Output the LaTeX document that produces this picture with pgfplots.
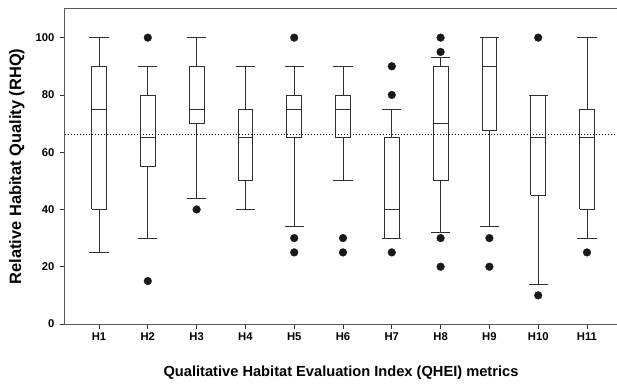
\documentclass[border=0pt]{standalone}
\usepackage{pgfplots}
\pgfplotsset{compat=1.18}
\usepackage{fontspec}
\setmainfont{Liberation Sans}
\pgfplotsset{bxl/.style={black!82, line width=0.8bp, solid, mark=none}}
% #1 position, #2 lower whisker, #3 lower quartile, #4 median, #5 upper quartile, #6 upper whisker
\newcommand\bx[6]{%
  \pgfmathsetmacro\xl{#1-0.15}\pgfmathsetmacro\xr{#1+0.15}%
  \pgfmathsetmacro\xcl{#1-0.195}\pgfmathsetmacro\xcr{#1+0.195}%
  \edef\tmp{%
    \noexpand\addplot[bxl] coordinates {(#1,#3) (#1,#2)};
    \noexpand\addplot[bxl] coordinates {(#1,#5) (#1,#6)};
    \noexpand\addplot[bxl] coordinates {(\xcl,#2) (\xcr,#2)};
    \noexpand\addplot[bxl] coordinates {(\xcl,#6) (\xcr,#6)};
    \noexpand\addplot[bxl] coordinates {(\xl,#3) (\xr,#3) (\xr,#5) (\xl,#5) (\xl,#3)};
    \noexpand\addplot[bxl] coordinates {(\xl,#4) (\xr,#4)};
  }\tmp}
\begin{document}
\begin{tikzpicture}
\begin{axis}[
  name=ax,
  scale only axis,
  width=552bp, height=315bp,
  xmin=0.303, xmax=11.615,
  ymin=0, ymax=110,
  xtick={1,...,11},
  xticklabels={H1,H2,H3,H4,H5,H6,H7,H8,H9,H10,H11},
  ytick={0,20,40,60,80,100},
  tick align=outside,
  xtick pos=bottom, ytick pos=left,
  major tick length=5bp,
  tick style={black!80, line width=0.8bp},
  axis line style={black!65, line width=1bp},
  ticklabel style={font=\fontsize{11.3}{12}\selectfont\bfseries},
  yticklabel style={xshift=-2bp},
  /pgf/number format/assume math mode=true,
  xlabel={Qualitative Habitat Evaluation Index (QHEI) metrics},
  ylabel={Relative Habitat Quality (RHQ)},
  every axis x label/.style={at={(axis description cs:0.5,-0.168)}, anchor=base, font=\fontsize{14.7}{16}\selectfont\bfseries},
  every axis y label/.style={at={(axis description cs:-0.087,0.5)}, rotate=90, anchor=center, font=\fontsize{16.5}{18}\selectfont\bfseries},
  clip=false,
]
\bx{1}{25}{40}{75}{90}{100}
\bx{2}{30}{55}{65}{80}{90}
\bx{3}{44}{70}{75}{90}{100}
\bx{4}{40}{50}{65}{75}{90}
\bx{5}{34}{65}{75}{80}{90}
\bx{6}{50}{65}{75}{80}{90}
\bx{7}{30}{30}{40}{65}{75}
\bx{8}{32}{50}{70}{90}{93}
\bx{9}{34}{67.5}{90}{100}{100}
\bx{10}{14}{45}{65}{80}{80}
\bx{11}{30}{40}{65}{75}{100}
% outliers
\addplot[only marks, mark=*, mark size=3.9bp, mark options={fill=black!90, draw=black!90, line width=0.3bp}] coordinates {
  (2,100) (2,15)
  (3,40)
  (5,100) (5,30) (5,25)
  (6,30) (6,25)
  (7,90) (7,80) (7,25)
  (8,100) (8,95) (8,30) (8,20)
  (9,30) (9,20)
  (10,100) (10,10)
  (11,25)
};
% reference line
\addplot[black, line width=1bp, dash pattern=on 1bp off 2bp] coordinates {(0.303,66) (11.615,66)};
\end{axis}
\pgfresetboundingbox
\path (ax.south west) ++(-65bp,-61bp) coordinate (bl);
\path (ax.north east) ++(0bp,9bp) coordinate (tr);
\useasboundingbox (bl) rectangle (tr);
\end{tikzpicture}
\end{document}
